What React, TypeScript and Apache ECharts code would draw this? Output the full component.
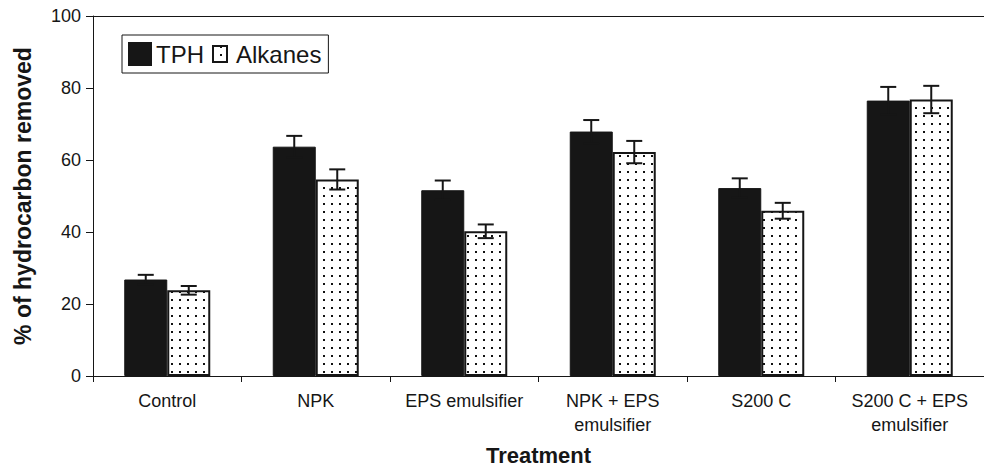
import React, { useEffect, useRef } from "react";
import * as echarts from "echarts";

const categories = [
  "Control",
  "NPK",
  "EPS emulsifier",
  "NPK + EPS\nemulsifier",
  "S200 C",
  "S200 C + EPS\nemulsifier",
];
const tphValues = [26.8, 63.7, 51.6, 67.9, 52.2, 76.5];
const tphErrors = [1.3, 3.0, 2.7, 3.2, 2.7, 3.8];
const alkaneValues = [23.8, 54.6, 40.2, 62.2, 45.9, 76.8];
const alkaneErrors = [1.2, 2.8, 1.9, 3.1, 2.2, 3.8];
const yMin = 0;
const yMax = 100;
const yInterval = 20;

const FONT = "Liberation Sans, Arial, Helvetica, sans-serif";
const INK = "#161616";
const BAR_W = 43;

function makeDots() {
  const c = document.createElement("canvas");
  c.width = 8;
  c.height = 8;
  const ctx = c.getContext("2d")!;
  ctx.fillStyle = "#ffffff";
  ctx.fillRect(0, 0, 8, 8);
  ctx.fillStyle = "#111111";
  ctx.fillRect(3, 3, 2, 2);
  return c;
}

function errorSeries(values: number[], errors: number[], offset: number) {
  return {
    type: "custom",
    silent: true,
    z: 10,
    encode: { x: 0, y: [1, 2] },
    data: values.map((v, i) => [i, v - errors[i], v + errors[i]]),
    renderItem: (params: any, api: any) => {
      const i = api.value(0);
      const lo = api.coord([i, api.value(1)]);
      const hi = api.coord([i, api.value(2)]);
      const x = lo[0] + offset;
      const style = { stroke: INK, lineWidth: 2 };
      return {
        type: "group",
        children: [
          { type: "line", shape: { x1: x, y1: lo[1], x2: x, y2: hi[1] }, style },
          { type: "line", shape: { x1: x - 8, y1: hi[1], x2: x + 8, y2: hi[1] }, style },
          { type: "line", shape: { x1: x - 8, y1: lo[1], x2: x + 8, y2: lo[1] }, style },
        ],
      };
    },
  };
}

export default function App() {
  const ref = useRef<HTMLDivElement>(null);
  useEffect(() => {
    if (!ref.current) return;
    const chart = echarts.init(ref.current, undefined, { renderer: "svg" });
    const dots = makeDots();
    const pattern: any = { image: dots, repeat: "repeat", imageWidth: 8, imageHeight: 8 };
    chart.setOption({
      animation: false,
      backgroundColor: "#ffffff",
      textStyle: { fontFamily: FONT, color: INK },
      grid: { left: 93, right: 0, top: 16, bottom: 89, containLabel: false },
      legend: {
        data: [
          { name: "TPH", icon: "rect" },
          { name: "Alkanes", icon: "path://M0,0M22,22M4,3h14v16h-14z" },
        ],
        left: 122,
        top: 35,
        orient: "horizontal",
        itemWidth: 22,
        itemHeight: 22,
        itemGap: 4,
        padding: [7, 7, 7, 6],
        borderColor: INK,
        borderWidth: 1,
        backgroundColor: "#ffffff",
        textStyle: { fontFamily: FONT, fontSize: 24, color: INK },
      },
      xAxis: [
        {
          type: "category",
          data: categories,
          axisLine: { show: true, lineStyle: { color: INK, width: 1 } },
          axisTick: { show: true, length: 6, lineStyle: { color: INK } },
          axisLabel: {
            interval: 0,
            fontSize: 18,
            lineHeight: 24,
            margin: 13,
            color: INK,
            fontFamily: FONT,
          },
          name: "Treatment",
          nameLocation: "middle",
          nameGap: 68,
          nameTextStyle: { fontSize: 22, fontWeight: "bold", color: INK, fontFamily: FONT },
        },
        {
          type: "category",
          data: categories,
          position: "top",
          axisLine: { show: true, lineStyle: { color: INK, width: 1 } },
          axisTick: { show: false },
          axisLabel: { show: false },
        },
      ],
      yAxis: {
        type: "value",
        min: yMin,
        max: yMax,
        interval: yInterval,
        axisLine: { show: true, lineStyle: { color: INK, width: 1 } },
        axisTick: { show: true, length: 7, lineStyle: { color: INK } },
        axisLabel: { fontSize: 18, margin: 12, color: INK, fontFamily: FONT },
        splitLine: { show: false },
        name: "% of hydrocarbon removed",
        nameLocation: "middle",
        nameGap: 59,
        nameTextStyle: { fontSize: 23, fontWeight: "bold", color: INK, fontFamily: FONT },
      },
      series: [
        {
          name: "TPH",
          type: "bar",
          data: tphValues,
          barWidth: BAR_W,
          barGap: "0%",
          itemStyle: { color: INK, borderColor: INK, borderWidth: 1 },
        },
        {
          name: "Alkanes",
          type: "bar",
          data: alkaneValues,
          barWidth: BAR_W,
          barGap: "0%",
          itemStyle: { color: pattern, borderColor: INK, borderWidth: 2 },
        },
        errorSeries(tphValues, tphErrors, -BAR_W / 2),
        errorSeries(alkaneValues, alkaneErrors, BAR_W / 2),
      ],
    });
    return () => chart.dispose();
  }, []);
  return (
    <div
      ref={ref}
      style={{ position: "fixed", left: 0, top: 0, width: 984, height: 471, background: "#fff" }}
    />
  );
}
